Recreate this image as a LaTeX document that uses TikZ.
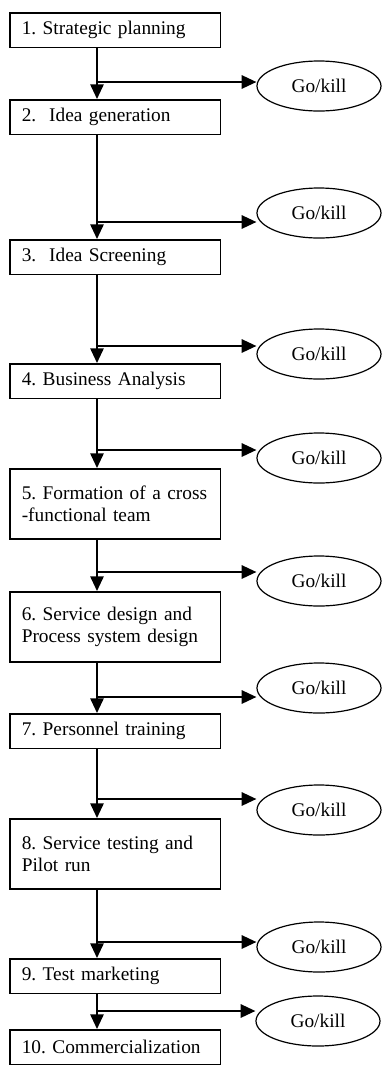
\documentclass[tikz,border=0pt]{standalone}
\usepackage{fontspec}
\setmainfont{Liberation Serif}
\usetikzlibrary{arrows.meta,shapes.geometric}
\frenchspacing
\hyphenpenalty=10000

\tikzset{
	stage/.style={draw, line width=1.2pt, rectangle, anchor=north west, text width=140pt,
		inner xsep=9pt, inner ysep=0pt, align=left, minimum height=26pt,
		font=\fontsize{14.5}{16.5}\selectfont},
	stagetwo/.style={stage, minimum height=52.5pt},
	gokill/.style={draw, line width=0.9pt, ellipse, minimum width=93pt, minimum height=37.5pt,
		inner sep=0pt, font=\fontsize{14.5}{16.5}\selectfont},
	flow/.style={line width=1.3pt, -{Triangle[length=11pt,width=10pt]}}
}

\begin{document}
\begin{tikzpicture}[x=0.75pt, y=-0.75pt]
	\useasboundingbox (0,0) rectangle (382,1068); % Rand wie im Original
	
	\node[stage] (s1) at (9,12) {1. Strategic planning};
	\node[stage] (s2) at (9,99) {2.\ \ Idea generation};
	\node[stage] (s3) at (9,239) {3.\ \ Idea Screening};
	\node[stage] (s4) at (9,363) {4. Business Analysis};
	\node[stagetwo] (s5) at (9,468) {5. Formation of a cross\\-functional team};
	\node[stagetwo] (s6) at (9,591) {6. Service design and\\Process system design};
	\node[stage] (s7) at (9,713) {7. Personnel training};
	\node[stagetwo] (s8) at (9,818) {8. Service testing and\\Pilot run};
	\node[stage] (s9) at (9,958) {9. Test marketing};
	\node[stage] (s10) at (9,1029) {10. Commercialization};
	
	\node[gokill] (g1) at (319,86) {Go/kill};
	\node[gokill] (g2) at (319,213) {Go/kill};
	\node[gokill] (g3) at (319,354) {Go/kill};
	\node[gokill] (g4) at (319,458) {Go/kill};
	\node[gokill] (g5) at (319,581) {Go/kill};
	\node[gokill] (g6) at (319,688) {Go/kill};
	\node[gokill] (g7) at (319,810) {Go/kill};
	\node[gokill] (g8) at (319,947) {Go/kill};
	\node[gokill] (g9) at (318,1021) {Go/kill};
	
	% senkrechte Linie und Abzweigungen
	\coordinate (spine) at (97,0);
	\coordinate (b1) at (97,82);
	\coordinate (b2) at (97,222);
	\coordinate (b3) at (97,346);
	\coordinate (b4) at (97,450);
	\coordinate (b5) at (97,572);
	\coordinate (b6) at (97,697);
	\coordinate (b7) at (97,799);
	\coordinate (b8) at (97,942);
	\coordinate (b9) at (97,1011);
	
	\draw[flow] (s1.south -| spine) -- (s2.north -| spine);
	\draw[flow] (s2.south -| spine) -- (s3.north -| spine);
	\draw[flow] (s3.south -| spine) -- (s4.north -| spine);
	\draw[flow] (s4.south -| spine) -- (s5.north -| spine);
	\draw[flow] (s5.south -| spine) -- (s6.north -| spine);
	\draw[flow] (s6.south -| spine) -- (s7.north -| spine);
	\draw[flow] (s7.south -| spine) -- (s8.north -| spine);
	\draw[flow] (s8.south -| spine) -- (s9.north -| spine);
	\draw[flow] (s9.south -| spine) -- (s10.north -| spine);
	
	\draw[flow] (b1) -- (b1 -| g1.west);
	\draw[flow] (b2) -- (b2 -| g2.west);
	\draw[flow] (b3) -- (b3 -| g3.west);
	\draw[flow] (b4) -- (b4 -| g4.west);
	\draw[flow] (b5) -- (b5 -| g5.west);
	\draw[flow] (b6) -- (b6 -| g6.west);
	\draw[flow] (b7) -- (b7 -| g7.west);
	\draw[flow] (b8) -- (b8 -| g8.west);
	\draw[flow] (b9) -- (b9 -| g9.west);
	
	%\draw[help lines] (0,0) grid[step=50] (382,1068);
\end{tikzpicture}
\end{document}
